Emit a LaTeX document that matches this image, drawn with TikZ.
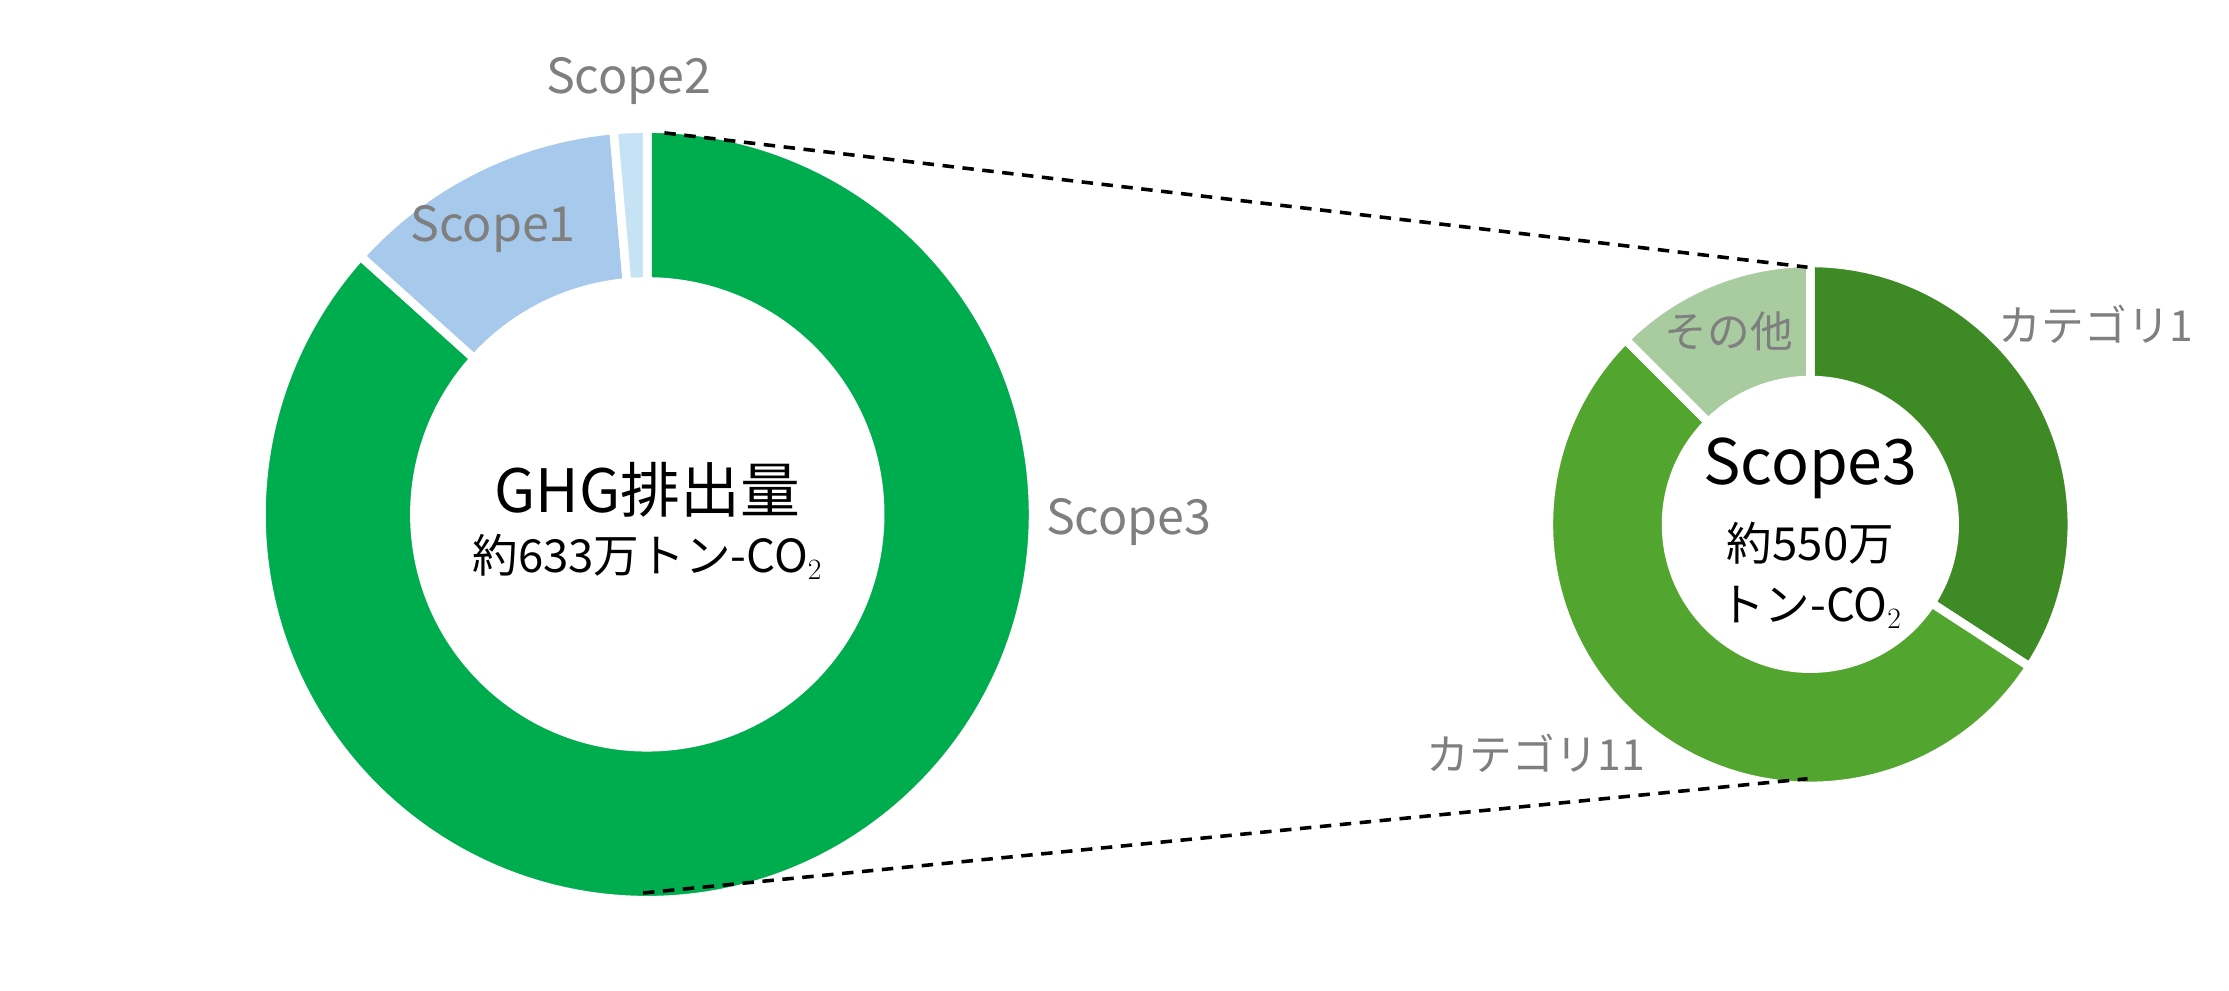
\documentclass[tikz,border=0pt]{standalone}
\usepackage{fontspec}
\setmainfont{Noto Sans CJK JP}
\definecolor{sthree}{HTML}{00AD4E}
\definecolor{sone}{HTML}{A7C9EB}
\definecolor{stwo}{HTML}{C5E3F5}
\definecolor{cone}{HTML}{3E8A25}
\definecolor{celeven}{HTML}{52A52E}
\definecolor{cother}{HTML}{A8CBA0}
\definecolor{lab}{HTML}{7F7F7F}
\tikzset{
  seg/.style={draw=white,line width=6bp,line join=miter},
  lbl/.style={text=lab,inner sep=0pt},
  ctr/.style={text=black,inner sep=0pt,align=center},
}
\newcommand{\annseg}[6]{% center, a, b, R, r, color
  \fill[#6,seg] ([shift={(#2:#4)}]#1) arc[start angle=#2,end angle=#3,radius=#4] -- ([shift={(#3:#5)}]#1) arc[start angle=#3,end angle=#2,radius=#5] -- cycle;}
\begin{document}
\begin{tikzpicture}[x=1bp,y=1bp]
\useasboundingbox (0,0) rectangle (1560,693);
\coordinate (bc) at (453,333);
\coordinate (sc) at (1267,326);
\annseg{bc}{90}{-222}{270}{163}{sthree}
\annseg{bc}{138}{95}{270}{163}{sone}
\annseg{bc}{95}{90}{270}{163}{stwo}
\annseg{sc}{90}{-33}{183}{101}{cone}
\annseg{sc}{-33}{-225}{183}{101}{celeven}
\annseg{sc}{135}{90}{183}{101}{cother}
\coordinate (bt) at (465,600);
\coordinate (bb) at (450,68);
\coordinate (st) at (1265,506);
\coordinate (sb) at (1265,148);
\draw[line width=2.5bp,dash pattern=on 8bp off 6bp] (bt) -- (st);
\draw[line width=2.5bp,dash pattern=on 8bp off 6bp] (bb) -- (sb);
\node[ctr,font=\fontsize{42}{46}\selectfont] (t1) at (453,350) {GHG排出量};
\node[ctr,font=\fontsize{32}{36}\selectfont] (t2) at (453,303) {約633万トン-CO$_2$};
\node[ctr,font=\fontsize{44}{48}\selectfont] (t3) at (1267,365) {Scope3};
\node[ctr,font=\fontsize{32}{36}\selectfont] (t4) at (1267,313) {約550万};
\node[ctr,font=\fontsize{32}{36}\selectfont] (t5) at (1267,268) {トン-CO$_2$};
\node[lbl,font=\fontsize{34}{38}\selectfont] (l1) at (440,636) {Scope2};
\node[lbl,font=\fontsize{34}{38}\selectfont] (l2) at (345,533) {Scope1};
\node[lbl,font=\fontsize{34}{38}\selectfont] (l3) at (790,328) {Scope3};
\node[lbl,font=\fontsize{30}{34}\selectfont] (l4) at (1467,466) {カテゴリ1};
\node[lbl,font=\fontsize{30}{34}\selectfont] (l5) at (1210,461) {その他};
\node[lbl,font=\fontsize{30}{34}\selectfont] (l6) at (1075,166) {カテゴリ11};
\end{tikzpicture}
\end{document}
